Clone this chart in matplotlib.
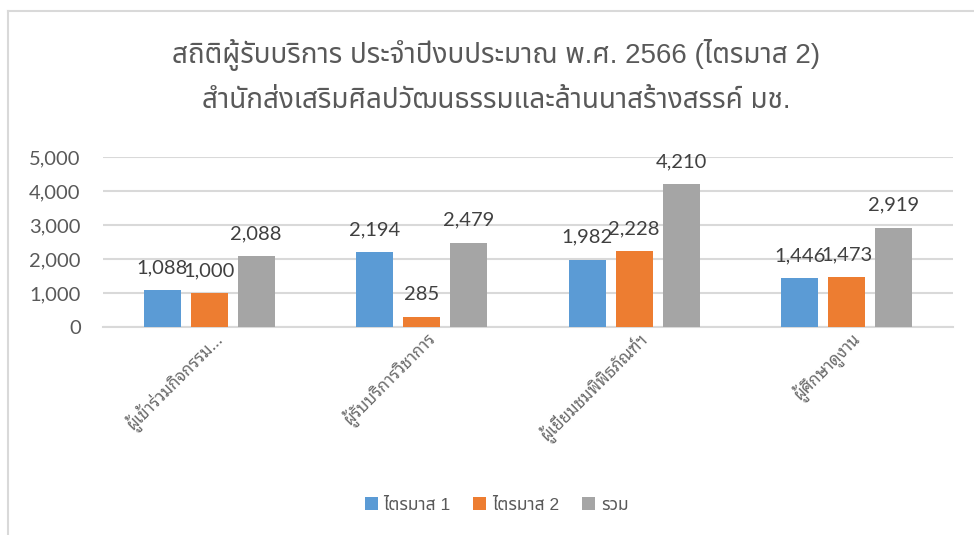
import matplotlib
matplotlib.use('Agg')
import matplotlib.pyplot as plt
import matplotlib.transforms as mtransforms
import numpy as np

categories = ['ผู้เข้าร่วมกิจกรรม...', 'ผู้รับบริการวิชาการ',
              'ผู้เยี่ยมชมพิพิธภัณฑ์ฯ', 'ผู้ศึกษาดูงาน']
series_names = ['ไตรมาส 1', 'ไตรมาส 2', 'รวม']
q1 = [1088, 2194, 1982, 1446]
q2 = [1000, 285, 2228, 1473]
total = [2088, 2479, 4210, 2919]
yticks = [0, 1000, 2000, 3000, 4000, 5000]

colors = ['#5B9BD5', '#ED7D31', '#A5A5A5']
text_col = '#595959'
grid_col = '#D9D9D9'
num_font = ['Lato', 'DejaVu Sans']
thai_font = ['Liberation Sans', 'Noto Sans Thai', 'DejaVu Sans']
looped_font = ['Noto Sans Thai Looped', 'DejaVu Sans']

fig = plt.figure(figsize=(9.74, 5.35), dpi=100)
ax = fig.add_axes([0.1057, 0.3888, 0.8727, 0.3178])

x = np.arange(len(categories))
width = 0.174
step = 0.221
bars = []
for i, (vals, name) in enumerate(zip([q1, q2, total], series_names)):
    b = ax.bar(x + (i - 1) * step, vals, width, color=colors[i], label=name, zorder=3)
    bars.append(b)
    for rect, v in zip(b, vals):
        ax.annotate('{:,}'.format(v), (rect.get_x() + rect.get_width() / 2, v),
                    xytext=(0, 10), textcoords='offset points', ha='center', va='bottom',
                    fontsize=14.5, color='#404040', family=num_font, zorder=4)

ax.set_xlim(-0.5, len(categories) - 0.5)
ax.set_ylim(0, 5000)
ax.set_yticks(yticks)
ax.set_yticklabels(['{:,}'.format(t) for t in yticks], fontsize=14.5,
                   color=text_col, family=num_font)
ax.yaxis.grid(True, color=grid_col, linewidth=1.5, zorder=0)
ax.tick_params(axis='y', length=0, pad=16)
ax.tick_params(axis='x', length=0, pad=6)
ax.set_xticks(x)
ax.set_xticklabels(categories, rotation=45, ha='right', va='center',
                   rotation_mode='anchor', fontsize=12, color='#6a6a6a', family=looped_font)
shift = mtransforms.ScaledTranslation(10 / 100, 0, fig.dpi_scale_trans)
for lbl in ax.get_xticklabels():
    lbl.set_transform(lbl.get_transform() + shift)
for side in ['top', 'right', 'left']:
    ax.spines[side].set_visible(False)
ax.spines['bottom'].set_color(grid_col)
ax.spines['bottom'].set_linewidth(1.5)

fig.text(0.509, 0.897, 'สถิติผู้รับบริการ ประจำปีงบประมาณ พ.ศ. 2566 (ไตรมาส 2)',
         ha='center', va='center', fontsize=20, color=text_col, family=thai_font)
fig.text(0.509, 0.811, 'สำนักส่งเสริมศิลปวัฒนธรรมและล้านนาสร้างสรรค์ มช.',
         ha='center', va='center', fontsize=20, color=text_col, family=thai_font)

leg = fig.legend(handles=bars, labels=series_names, loc='center', bbox_to_anchor=(0.51, 0.056),
                 ncol=3, frameon=False, handlelength=0.75, handleheight=0.75,
                 handletextpad=0.35, columnspacing=1.3,
                 prop={'family': thai_font, 'size': 12.5})
for t in leg.get_texts():
    t.set_color(text_col)

# outer chart border (only top and left edges fall inside the picture)
fig.add_artist(plt.Line2D([8 / 974, 1], [1 - 11 / 535] * 2, color=grid_col, linewidth=1.5))
fig.add_artist(plt.Line2D([8 / 974] * 2, [0, 1 - 11 / 535], color=grid_col, linewidth=1.5))

fig.savefig('out.png', dpi=100)
